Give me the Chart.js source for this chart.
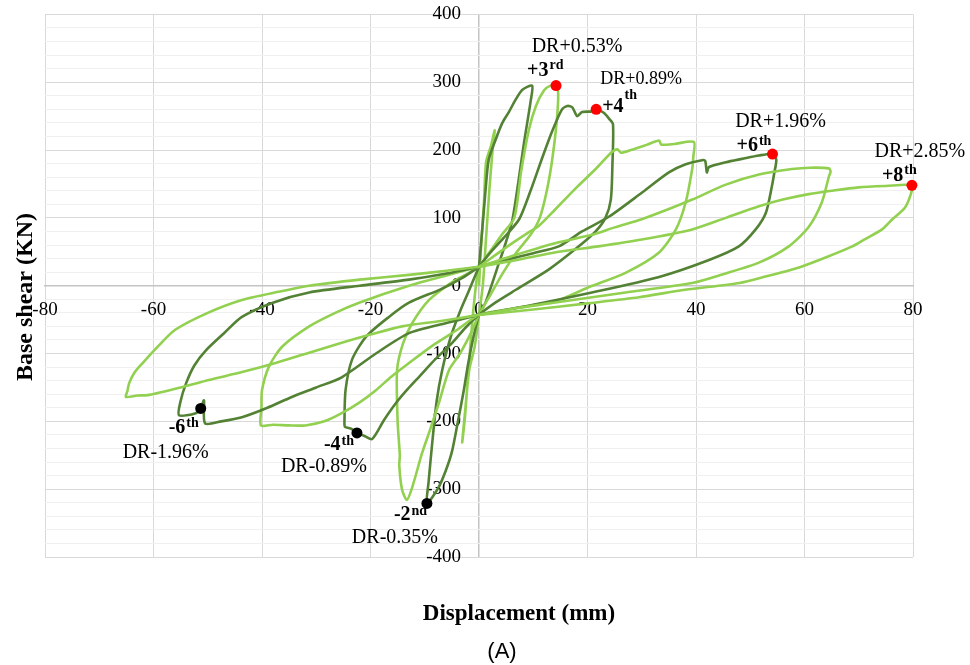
<!DOCTYPE html>
<html>
<head>
<meta charset="utf-8">
<script src="https://cdn.jsdelivr.net/npm/chart.js@4.4.1/dist/chart.umd.min.js"></script>
<style>
  html, body { margin: 0; padding: 0; background: #fff; }
  #wrap { width: 970px; height: 665px; position: relative; }
</style>
</head>
<body>
<div id="wrap"><canvas id="hysteresis"></canvas></div>
<script>
// [displacement (mm), base shear (kN)] for each loading cycle
const cycle1 = [[0,0],[0.4,60],[0.9,120],[1.3,182],[2.2,206],[2.9,229],[2.5,200],[1.9,140],[1.3,70],[0.7,0],[0,-43],
  [-0.8,-90],[-1.8,-124],[-2.5,-180],[-3.1,-231],[-2.6,-195],[-2.0,-130],[-1.2,-50],[-0.5,5],[0,28]];
const cycle2 = [[0,28],[0.6,83],[1.2,140],[1.8,186],[3.1,216],[4.3,240],[5.5,256],[6.8,275],[8,289],[9.8,295],
  [9.5,271],[8.3,211],[7.2,150],[6.1,95],[4.8,60],[3.7,34],[1.2,-25],[0,-43],
  [-1,-75],[-2,-115],[-2.8,-154],[-4,-205],[-5,-245],[-6.1,-272],[-7.5,-298],[-9.6,-321],
  [-9.3,-290],[-8.6,-230],[-7.8,-170],[-6.8,-125],[-5.2,-75],[-3.5,-38],[-2,-10],[0,28]];
const cycle3 = [[0,28],[2,50],[4.2,75],[6.5,100],[7.8,170],[9.2,230],[10.5,265],[12,288],[13.2,295],[14.2,295],
  [14.6,282],[14.3,240],[13.5,186],[12.5,140],[11.2,100],[9.5,75],[7,50],[4.5,20],[2,-15],[0,-43],
  [-1.5,-70],[-3.5,-100],[-5.5,-124],[-7.4,-173],[-9,-212],[-10.5,-247],[-12.3,-297],[-13.3,-316],
  [-14.2,-300],[-14.7,-265],[-14.6,-250],[-15,-200],[-15.1,-124],[-14,-85],[-12.3,-55],[-9.2,-21],[-5,5],[-2,18],[0,28]];
const cycle4 = [[0,28],[2,48],[4.5,70],[7.4,98],[9.5,140],[11.5,185],[13.5,228],[15.3,260],[16.3,265],[17.2,263],
  [18.1,250],[19,256],[20.8,257],[21.6,260],[23,255],[24,246],[24.7,238],[24.6,180],[24.3,127],[23.3,100],
  [21.5,80],[18.4,58],[12.9,24],[6.8,-6],[3,-25],[0,-43],
  [-2.5,-62],[-4.9,-84],[-8,-108],[-11,-134],[-13.2,-153],[-15.3,-173],[-17.5,-198],[-19.7,-226],[-21,-222],
  [-22.5,-217],[-23.5,-211],[-24.7,-208],[-24.8,-200],[-24.6,-154],[-23.4,-109],[-20.8,-75],[-16.6,-46],
  [-12.9,-25],[-7,-5],[-3,12],[0,28]];
const cycle5 = [[0,28],[3,45],[6,62],[9,78],[11,88],[14,112],[18,145],[21.5,172],[24.5,197],[25.5,201],[26.2,196],
  [28,200],[31,208],[33.2,214],[33.6,208],[36,209],[39.6,212],[39.5,190],[39.3,172],[38.1,123],[36.3,83],
  [33.2,49],[27,19],[20,-3],[14.7,-21],[7,-33],[0,-43],
  [-4,-65],[-8.5,-88],[-12.9,-114],[-16,-133],[-19,-154],[-22,-172],[-25.3,-188],[-28.5,-200],[-32,-206],
  [-35,-206],[-38,-205],[-40.2,-206],[-40.1,-180],[-40,-154],[-38.7,-119],[-36.3,-90],[-31.3,-60],
  [-26.5,-40],[-22.1,-25],[-12.9,0],[-6,15],[0,28]];
const cycle6 = [[0,28],[5,38],[10,48],[14.7,58],[19,80],[24,102],[30,137],[35,167],[38.1,179],[41.1,185],
  [41.7,184],[42,167],[42.4,175],[45.5,182],[48.5,187],[51.6,192],[54.1,194],[54.8,186],[54.4,165],[54,147],
  [52.9,108],[51,83],[47.9,58],[42.4,38],[33.2,13],[20.8,-10],[10,-28],[0,-43],
  [-6,-55],[-12.9,-70],[-19,-100],[-25.3,-135],[-30,-150],[-34.5,-164],[-39,-180],[-43.7,-194],[-47.5,-200],
  [-50.5,-203],[-50.7,-169],[-51.3,-181],[-52.2,-188],[-55.3,-191],[-55,-170],[-54,-144],[-52.5,-118],
  [-50.3,-95],[-47,-70],[-43.7,-46],[-38,-25],[-31.3,-10],[-22,0],[-12.9,9],[-6,18],[0,28]];
const cycle7 = [[0,28],[7,46],[14.7,64],[20.8,75],[25,86],[30,98],[35,113],[39.3,127],[45.5,149],[51.6,164],
  [57.7,172],[61,174],[64.5,173],[64.8,168],[64.5,161],[63.2,123],[60.8,87],[57.1,58],[51.6,34],[45,17],
  [39.3,4],[27,-10],[14.7,-24],[7,-33],[0,-43],
  [-7,-52],[-14.2,-60],[-20,-72],[-25.3,-84],[-31,-98],[-37.5,-114],[-43.5,-127],[-49.8,-139],[-55,-150],
  [-60.8,-161],[-63,-162],[-65.1,-164],[-64.8,-155],[-64.5,-144],[-63.5,-128],[-62,-114],[-59,-88],[-56,-65],
  [-50,-40],[-43.7,-21],[-37,-9],[-31.3,0],[-22,9],[-12.9,16],[-6,22],[0,28]];
const cycle8 = [[0,28],[7,38],[14.7,50],[22,58],[30,68],[39.3,83],[45.5,100],[51.6,117],[56,127],[60.8,135],
  [65,140],[70,145],[75,147],[79.8,148],[79.6,135],[78.5,115],[76.2,98],[74.3,83],[71,68],[68.8,58],[64,42],
  [59,27],[53,14],[48,4],[38,-6],[29.5,-17],[20,-26],[10,-35],[0,-43]];

const cycles = [cycle1, cycle2, cycle3, cycle4, cycle5, cycle6, cycle7, cycle8];

// marked peaks: cycle number, drift ratio
const peakDisp  = [14.2, 21.6, 54.1, 79.8, -51.3, -22.5, -9.6];
const peakShear = [295, 260, 194, 148, -181, -217, -321];
const peakCycle = ['+3', '+4', '+6', '+8', '-6', '-4', '-2'];
const peakSuffix = ['rd', 'th', 'th', 'th', 'th', 'th', 'nd'];
const peakDrift = ['DR+0.53%', 'DR+0.89%', 'DR+1.96%', 'DR+2.85%', 'DR-1.96%', 'DR-0.89%', 'DR-0.35%'];

const LIGHT = '#92d050';
const DARK = '#548235';
const cycleColors = [LIGHT, DARK, LIGHT, DARK, LIGHT, DARK, LIGHT, LIGHT];

// label placement around each marker, in pixels
const labelOffsets = [
  { cx: -29, cy: -10, sup: 7,  dx: 21,  dy: -39, dsize: 20 },
  { cx: 6,   cy: 3,   sup: 13, dx: 45,  dy: -30, dsize: 18 },
  { cx: -36, cy: -3,  sup: 6,  dx: 8,   dy: -32, dsize: 20 },
  { cx: -30, cy: -4,  sup: 7,  dx: 8,   dy: -34, dsize: 20 },
  { cx: -32, cy: 25,  sup: 6,  dx: -35, dy: 44,  dsize: 20 },
  { cx: -33, cy: 17,  sup: 5,  dx: -33, dy: 34,  dsize: 20 },
  { cx: -33, cy: 17,  sup: 5,  dx: -32, dy: 34,  dsize: 20 }
];

const SERIF = '"Liberation Serif", "Times New Roman", serif';

// later cycles sit on top, markers above everything
const datasets = cycles.map((c, i) => ({
  data: c.map(p => ({ x: p[0], y: p[1] })),
  borderColor: cycleColors[i],
  borderWidth: 2.6,
  showLine: true,
  pointRadius: 0,
  tension: 0.25,
  order: cycles.length - i
}));

datasets.push({
  data: peakDisp.map((d, i) => ({ x: d, y: peakShear[i] })),
  showLine: false,
  pointRadius: 5.5,
  pointBorderWidth: 0,
  pointBackgroundColor: peakShear.map(v => v > 0 ? '#ff0000' : '#000000'),
  clip: false,
  order: 0
});

const peakLabels = {
  id: 'peakLabels',
  afterDatasetsDraw(chart) {
    const { ctx, scales: { x, y } } = chart;
    ctx.save();
    ctx.fillStyle = '#000';
    peakDisp.forEach((d, i) => {
      const px = x.getPixelForValue(d);
      const py = y.getPixelForValue(peakShear[i]);
      const o = labelOffsets[i];
      ctx.textAlign = 'left';
      ctx.textBaseline = 'alphabetic';
      ctx.font = 'bold 20px ' + SERIF;
      ctx.fillText(peakCycle[i], px + o.cx, py + o.cy);
      const w = ctx.measureText(peakCycle[i]).width;
      ctx.font = 'bold 14px ' + SERIF;
      ctx.fillText(peakSuffix[i], px + o.cx + w + 1, py + o.cy - o.sup);
      ctx.font = o.dsize + 'px ' + SERIF;
      ctx.textAlign = 'center';
      ctx.textBaseline = 'middle';
      ctx.fillText(peakDrift[i], px + o.dx, py + o.dy);
    });
    ctx.restore();
  },
  afterDraw(chart) {
    const { ctx } = chart;
    ctx.save();
    ctx.fillStyle = '#000';
    ctx.textAlign = 'center';
    ctx.textBaseline = 'middle';
    ctx.font = 'bold 23px ' + SERIF;
    ctx.fillText('Displacement (mm)', 519, 614);
    ctx.font = '22px "Liberation Sans", Arial, sans-serif';
    ctx.fillText('(A)', 502, 652);
    ctx.translate(26, 297);
    ctx.rotate(-Math.PI / 2);
    ctx.font = 'bold 24px ' + SERIF;
    ctx.fillText('Base shear (KN)', 0, 0);
    ctx.restore();
  }
};

const AXIS_GREY = '#c4c4c4';

new Chart(document.getElementById('hysteresis'), {
  type: 'scatter',
  data: { datasets },
  options: {
    responsive: true,
    maintainAspectRatio: false,
    animation: false,
    layout: { padding: { left: 45, right: 57, top: 9, bottom: 108 } },
    plugins: { legend: { display: false }, tooltip: { enabled: false } },
    scales: {
      x: {
        type: 'linear',
        min: -80, max: 80,
        position: { y: 0 },
        grid: {
          drawTicks: false,
          color: c => (c.tick && c.tick.value === 0) ? AXIS_GREY : '#d9d9d9',
          lineWidth: c => (c.tick && c.tick.value === 0) ? 1.5 : 1
        },
        border: { color: AXIS_GREY, width: 1.5 },
        ticks: { stepSize: 20, padding: 13, color: '#000', font: { family: SERIF, size: 19 } }
      },
      y: {
        type: 'linear',
        min: -400, max: 400,
        // labels sit just left of the zero line
        position: { x: -3.3 },
        grid: {
          drawTicks: false,
          color: c => (c.tick && c.tick.value % 100 === 0) ? '#d9d9d9' : '#f0f0f0'
        },
        border: { display: false },
        ticks: {
          stepSize: 20,
          autoSkip: false,
          color: '#000',
          font: { family: SERIF, size: 19 },
          callback: v => v % 100 === 0 ? v : ''
        }
      }
    }
  },
  plugins: [peakLabels]
});
</script>
</body>
</html>
